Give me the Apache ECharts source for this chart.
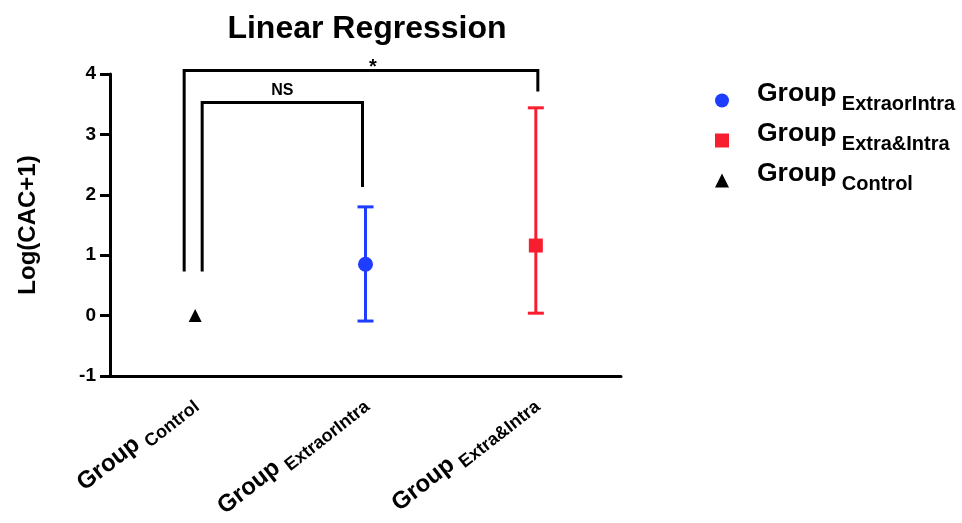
<!DOCTYPE html>
<html>
<head>
<meta charset="utf-8">
<script src="https://cdn.jsdelivr.net/npm/echarts@6/dist/echarts.min.js"></script>
<style>
html,body{margin:0;padding:0;background:#fff;}
#chart{width:962px;height:523px;}
</style>
</head>
<body>
<div id="chart"></div>
<script>
// ---- data ----
const categories = ['Control', 'ExtraorIntra', 'Extra&Intra'];
const means = [0, 0.85, 1.16];
const errLow = [null, -0.09, 0.04];
const errHigh = [null, 1.80, 3.44];
const legendOrder = ['ExtraorIntra', 'Extra&Intra', 'Control'];
const yTicks = [-1, 0, 1, 2, 3, 4];
// significance brackets
const bracketFrom = [0, 0];
const bracketTo = [2, 1];
const bracketTop = [4.06, 3.53];
const bracketLeftEnd = [0.73, 0.73];
const bracketRightEnd = [3.71, 2.13];
const bracketText = ['*', 'NS'];

// ---- styles ----
const FONT = '"Liberation Sans", Arial, Helvetica, sans-serif';
const colors = {'ExtraorIntra': '#1f3dff', 'Extra&Intra': '#f71e30', 'Control': '#000000'};
const symbols = {'ExtraorIntra': 'circle', 'Extra&Intra': 'rect', 'Control': 'triangle'};
const symbolSizes = {'ExtraorIntra': 15, 'Extra&Intra': 14, 'Control': 13};
const bracketLeftOffset = [-11, 7];
const bracketRightOffset = [2, -3];
const bracketTextOffsetX = [12, 0];
const bracketTextOffsetY = [7, -4];
const bracketTextSize = [20, 16];

const chart = echarts.init(document.getElementById('chart'));

const scatterSeries = legendOrder.map(function (name) {
  const idx = categories.indexOf(name);
  return {
    name: name,
    type: 'scatter',
    symbol: symbols[name],
    symbolSize: symbolSizes[name],
    itemStyle: {color: colors[name], opacity: 1},
    z: 5,
    data: [[idx, means[idx]]]
  };
});

const errData = [];
categories.forEach(function (c, i) {
  if (errLow[i] != null) errData.push([i, errLow[i], errHigh[i]]);
});

const bracketData = bracketFrom.map(function (f, i) {
  return [f, bracketTo[i], bracketTop[i], bracketLeftEnd[i], bracketRightEnd[i], i];
});

const option = {
  backgroundColor: '#ffffff',
  animation: false,
  title: {
    text: 'Linear Regression',
    left: 362,
    textAlign: 'center',
    top: 8,
    textStyle: {fontFamily: FONT, fontWeight: 'bold', fontSize: 32, color: '#000'}
  },
  grid: {left: 110, top: 74, width: 511, height: 302, containLabel: false, outerBoundsMode: 'none'},
  legend: {
    orient: 'vertical',
    left: 710,
    top: 75,
    itemWidth: 14,
    itemHeight: 14,
    itemGap: 6,
    data: legendOrder.map(function (n) { return {name: n, icon: symbols[n]}; }),
    formatter: function (n) { return '{g|Group} {s|' + n + '}'; },
    textStyle: {
      fontFamily: FONT,
      rich: {
        g: {fontFamily: FONT, fontWeight: 'bold', fontSize: 26.5, lineHeight: 27, padding: [0, 2, 7, 23], verticalAlign: 'bottom', color: '#000'},
        s: {fontFamily: FONT, fontWeight: 'bold', fontSize: 20, lineHeight: 21, verticalAlign: 'bottom', color: '#000'}
      }
    }
  },
  xAxis: {
    type: 'category',
    data: categories,
    boundaryGap: true,
    axisLine: {onZero: false, lineStyle: {color: '#000', width: 3}},
    axisTick: {alignWithLabel: true, length: 8, lineStyle: {color: '#000', width: 3}},
    splitLine: {show: false},
    axisLabel: {
      rotate: 38,
      margin: 26,
      interval: 0,
      hideOverlap: false,
      formatter: function (v) { return '{g|Group} {s|' + v + '}'; },
      rich: {
        g: {fontFamily: FONT, fontWeight: 'bold', fontSize: 24, lineHeight: 25, padding: [0, 3, 5, 0], verticalAlign: 'bottom', color: '#000'},
        s: {fontFamily: FONT, fontWeight: 'bold', fontSize: 18, lineHeight: 19, verticalAlign: 'bottom', color: '#000'}
      }
    }
  },
  yAxis: {
    type: 'value',
    min: yTicks[0],
    max: yTicks[yTicks.length - 1],
    interval: 1,
    name: 'Log(CAC+1)',
    nameLocation: 'middle',
    nameGap: 70,
    nameTextStyle: {fontFamily: FONT, fontWeight: 'bold', fontSize: 24, color: '#000'},
    axisLine: {show: true, lineStyle: {color: '#000', width: 3}},
    axisTick: {show: true, length: 10, lineStyle: {color: '#000', width: 3}},
    splitLine: {show: false},
    axisLabel: {margin: 14, fontFamily: FONT, fontWeight: 'bold', fontSize: 19, color: '#000'}
  },
  series: [
    {
      type: 'custom',
      name: 'errors',
      z: 3,
      data: errData,
      renderItem: function (params, api) {
        const i = api.value(0);
        const lo = api.coord([i, api.value(1)]);
        const hi = api.coord([i, api.value(2)]);
        const color = colors[categories[i]];
        const hw = 8;
        const st = {stroke: color, lineWidth: 3, fill: null};
        return {
          type: 'group',
          children: [
            {type: 'line', shape: {x1: lo[0], y1: lo[1], x2: hi[0], y2: hi[1]}, style: st},
            {type: 'line', shape: {x1: lo[0] - hw, y1: lo[1], x2: lo[0] + hw, y2: lo[1]}, style: st},
            {type: 'line', shape: {x1: hi[0] - hw, y1: hi[1], x2: hi[0] + hw, y2: hi[1]}, style: st}
          ]
        };
      }
    },
    {
      type: 'custom',
      name: 'brackets',
      z: 3,
      clip: false,
      data: bracketData,
      renderItem: function (params, api) {
        const k = api.value(5);
        const top = api.value(2);
        const pL = api.coord([api.value(0), api.value(3)]);
        const pLt = api.coord([api.value(0), top]);
        const pR = api.coord([api.value(1), api.value(4)]);
        const pRt = api.coord([api.value(1), top]);
        const xl = pL[0] + bracketLeftOffset[k];
        const xr = pR[0] + bracketRightOffset[k];
        return {
          type: 'group',
          children: [
            {type: 'polyline', shape: {points: [[xl, pL[1]], [xl, pLt[1]], [xr, pRt[1]], [xr, pR[1]]]},
             style: {stroke: '#000', lineWidth: 3, fill: null, lineJoin: 'miter'}},
            {type: 'text', style: {
              text: bracketText[k], x: (xl + xr) / 2 + bracketTextOffsetX[k], y: pLt[1] + bracketTextOffsetY[k],
              textAlign: 'center', textVerticalAlign: 'bottom',
              font: 'bold ' + bracketTextSize[k] + 'px ' + FONT, fill: '#000'}}
          ]
        };
      }
    }
  ].concat(scatterSeries)
};
chart.setOption(option);
</script>
</body>
</html>
